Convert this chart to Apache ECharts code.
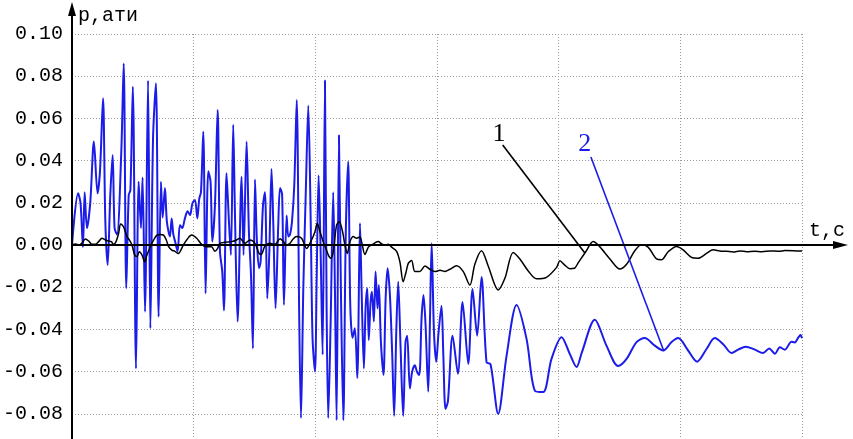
<!DOCTYPE html>
<html>
<head>
<meta charset="utf-8">
<script src="https://cdn.jsdelivr.net/npm/echarts@6/dist/echarts.min.js"></script>
<style>
    html, body {margin: 0; padding: 0; background: #fff;}
    #chart {width: 853px; height: 439px;}
</style>
</head>
<body>
<div id="chart"></div>
<script>
// curve 1 (black), [t, p]
var curve1 = [[0,0],[0.003,0.0005],[0.0055,0],[0.008,0.0008],[0.011,0.0028],[0.0137,0.0019],[0.0164,0.0003],[0.0192,0.0003],[0.0219,0.0016],[0.0246,0.0032],[0.0274,0.0024],[0.03,0.0019],[0.0323,0.0016],[0.0342,0.0003],[0.0362,0.0016],[0.0383,0.0055],[0.040,0.0100],[0.0425,0.0085],[0.0452,0.004],[0.0471,0.0024],[0.0493,0],[0.0515,-0.0047],[0.0534,-0.0055],[0.0553,-0.0032],[0.0575,-0.0047],[0.0597,-0.008],[0.0616,-0.0047],[0.0644,-0.0008],[0.0671,0.0024],[0.0698,0.0047],[0.0726,0.005],[0.0753,0.0047],[0.0775,0.0024],[0.0794,-0.0008],[0.082,-0.0024],[0.0846,-0.003],[0.0874,-0.004],[0.0915,0],[0.095,0.003],[0.0983,0.0047],[0.1025,0.0032],[0.1066,0.0003],[0.1107,-0.0008],[0.1147,-0.0008],[0.1175,-0.003],[0.1197,-0.0016],[0.1216,0.0008],[0.1257,0.0013],[0.1312,0.0016],[0.1353,0.0024],[0.138,0.0032],[0.1421,0.0008],[0.1462,0.0024],[0.1504,0.0008],[0.1537,-0.004],[0.1555,-0.0045],[0.1586,-0.0005],[0.1627,0.0008],[0.1668,0.0003],[0.171,0.003],[0.1737,0.0016],[0.1764,0],[0.1792,0.0008],[0.1819,0.003],[0.1847,0.004],[0.1887,0.0032],[0.1929,-0.0016],[0.1969,0.0024],[0.1997,0.0063],[0.2016,0.0103],[0.2038,0.0063],[0.206,0.0024],[0.2087,-0.0016],[0.2106,-0.0047],[0.2126,-0.0063],[0.2147,-0.0032],[0.2175,0.0095],[0.2197,0.011],[0.2224,0.0063],[0.2243,0],[0.2263,-0.004],[0.2285,0.0016],[0.2312,0.004],[0.2339,0.0032],[0.2366,0.0038],[0.238,0.0016],[0.2408,-0.0045],[0.2436,-0.001],[0.2463,0],[0.2517,0.0016],[0.2545,0.0005],[0.2572,0],[0.2599,0.0003],[0.2627,-0.001],[0.2668,-0.003],[0.2695,-0.008],[0.2722,-0.0174],[0.2745,-0.013],[0.2764,-0.0087],[0.2791,-0.0074],[0.2818,-0.0125],[0.286,-0.0125],[0.2901,-0.01],[0.2942,-0.0115],[0.2983,-0.0126],[0.3025,-0.012],[0.3065,-0.0125],[0.3106,-0.0115],[0.3161,-0.0098],[0.3215,-0.0125],[0.327,-0.019],[0.3311,-0.0091],[0.3366,-0.0027],[0.342,-0.0098],[0.3503,-0.0213],[0.3558,-0.0158],[0.3626,-0.0035],[0.3681,-0.0066],[0.375,-0.0123],[0.3818,-0.016],[0.39,-0.0153],[0.3983,-0.0106],[0.401,-0.0075],[0.405,-0.0095],[0.4092,-0.0112],[0.413,-0.011],[0.416,-0.0085],[0.4228,-0.0027],[0.4283,0.0017],[0.433,-0.0003],[0.4421,-0.0066],[0.4503,-0.0114],[0.456,-0.009],[0.4626,-0.0027],[0.4681,0.0001],[0.4735,-0.001],[0.4804,-0.0066],[0.4845,-0.007],[0.49,-0.0032],[0.4969,-0.0007],[0.5023,-0.0023],[0.5092,-0.0059],[0.5147,-0.0063],[0.5215,-0.004],[0.527,-0.0023],[0.5325,-0.0028],[0.538,-0.003],[0.5435,-0.0033],[0.549,-0.0028],[0.5545,-0.0032],[0.561,-0.003],[0.567,-0.0032],[0.5745,-0.0028],[0.581,-0.003],[0.586,-0.0026],[0.593,-0.0027],[0.6,-0.0029]];

// curve 2 (blue), [t, p]
var curve2 = [[0,0],[0.005,0.0245],[0.007,0.020],[0.009,-0.001],[0.0104,0.025],[0.0123,0.008],[0.015,0.020],[0.018,0.049],[0.021,0.0245],[0.023,0.035],[0.0255,0.0695],[0.0274,0.011],[0.0293,-0.0095],[0.0315,0.024],[0.0334,0.0427],[0.035,0.008],[0.037,0.005],[0.0405,0.044],[0.0425,0.086],[0.0446,-0.0205],[0.0466,0.0237],[0.048,0.026],[0.050,0.075],[0.0526,-0.0585],[0.0548,0.030],[0.0567,0.008],[0.058,0.032],[0.060,-0.0316],[0.0625,0.078],[0.0644,-0.0395],[0.0666,0.0505],[0.069,0.0766],[0.0712,-0.034],[0.0731,0.030],[0.0745,0.013],[0.0764,0.027],[0.078,0.011],[0.0805,0.004],[0.0819,0.0126],[0.0833,0.005],[0.0846,0.002],[0.0868,-0.003],[0.0887,0.0095],[0.0906,0.008],[0.0928,0.0126],[0.095,0.016],[0.097,0.0142],[0.099,0.0198],[0.1011,0.0213],[0.103,0.0126],[0.1046,0.022],[0.106,0.025],[0.1079,0.0537],[0.1098,-0.023],[0.112,0.035],[0.1139,0.030],[0.1153,0.0016],[0.1175,0.019],[0.1197,0.064],[0.1216,-0.003],[0.1235,-0.0126],[0.1249,-0.031],[0.127,0.034],[0.129,0.011],[0.1306,-0.0047],[0.1325,0.057],[0.1339,0.0158],[0.1361,-0.0363],[0.1394,0.0324],[0.141,-0.0047],[0.1435,0.049],[0.1454,0.0063],[0.1471,-0.014],[0.1487,-0.049],[0.1504,0.031],[0.152,0.0016],[0.1537,-0.011],[0.155,-0.008],[0.157,0.019],[0.1586,0.025],[0.1605,-0.0253],[0.1621,-0.005],[0.164,0.036],[0.1654,0.011],[0.1673,-0.030],[0.1695,0.009],[0.171,0.027],[0.1727,0.024],[0.1742,-0.0284],[0.1764,0.014],[0.1778,0.004],[0.1792,0.005],[0.1808,0.011],[0.1827,0.0284],[0.1847,0.0687],[0.1868,-0.0363],[0.1882,-0.082],[0.1901,-0.021],[0.1923,0.0284],[0.1942,0.066],[0.1962,0.011],[0.1977,-0.044],[0.1997,-0.060],[0.2011,-0.016],[0.2027,0.033],[0.2043,-0.0016],[0.206,-0.052],[0.2079,0.078],[0.2093,-0.0316],[0.2106,-0.082],[0.2126,-0.0363],[0.2147,0.025],[0.2161,-0.0205],[0.2175,-0.083],[0.2194,0.052],[0.221,-0.0205],[0.223,-0.083],[0.225,0.0047],[0.227,0.0395],[0.2287,-0.0284],[0.2306,-0.044],[0.2325,-0.0395],[0.2345,-0.063],[0.2367,0.0103],[0.238,-0.0205],[0.2399,-0.0585],[0.2413,-0.030],[0.2427,-0.0205],[0.2439,-0.045],[0.2454,-0.027],[0.2465,-0.0221],[0.2481,-0.0363],[0.2495,-0.0126],[0.2511,-0.030],[0.2522,-0.019],[0.2539,-0.046],[0.256,-0.0616],[0.2578,-0.025],[0.2594,-0.011],[0.2613,-0.0237],[0.2632,-0.052],[0.2648,-0.081],[0.2666,-0.0395],[0.2681,-0.0174],[0.27,-0.0474],[0.2722,-0.081],[0.2741,-0.046],[0.2755,-0.043],[0.2777,-0.068],[0.2796,-0.060],[0.2818,-0.057],[0.2835,-0.060],[0.2854,-0.0616],[0.2873,-0.0348],[0.2889,-0.0237],[0.2906,-0.038],[0.2928,-0.0695],[0.2942,-0.0363],[0.2956,0.0008],[0.2975,-0.0411],[0.2994,-0.0553],[0.3012,-0.042],[0.3037,-0.0288],[0.3052,-0.052],[0.307,-0.0777],[0.309,-0.074],[0.3128,-0.043],[0.3172,-0.061],[0.321,-0.027],[0.3257,-0.0564],[0.3292,-0.0208],[0.333,-0.043],[0.3366,-0.0152],[0.3407,-0.0555],[0.344,-0.0565],[0.3503,-0.080],[0.3572,-0.0524],[0.3654,-0.0284],[0.3736,-0.0445],[0.3804,-0.069],[0.3873,-0.0697],[0.3941,-0.054],[0.4024,-0.0437],[0.4092,-0.0517],[0.4147,-0.0578],[0.419,-0.051],[0.4297,-0.0354],[0.4393,-0.0477],[0.4489,-0.0574],[0.4558,-0.054],[0.464,-0.046],[0.4708,-0.0441],[0.479,-0.0477],[0.4859,-0.050],[0.4928,-0.046],[0.4982,-0.0441],[0.5064,-0.050],[0.5138,-0.0553],[0.5215,-0.0493],[0.5283,-0.0441],[0.5352,-0.047],[0.5421,-0.0512],[0.5475,-0.0496],[0.5538,-0.0482],[0.5612,-0.0496],[0.568,-0.0512],[0.573,-0.049],[0.5777,-0.0515],[0.5818,-0.0485],[0.5859,-0.0496],[0.5913,-0.0458],[0.594,-0.0462],[0.5968,-0.044],[0.5988,-0.0426],[0.6,-0.0442]];

// leader lines: [label position, line start, line end]
var leader1 = [[0.351, 0.0526], [0.354, 0.0474], [0.4215, -0.0038]];
var leader2 = [[0.4215, 0.0479], [0.4265, 0.0417], [0.4864, -0.0502]];

var yTicks = {min: -0.1, max: 0.1, step: 0.02};
var xTicks = {min: 0, max: 0.6, step: 0.1};

var monoFont = '"Liberation Mono", "DejaVu Sans Mono", monospace';
var serifFont = '"Liberation Serif", "DejaVu Serif", serif';
var blue = '#1c1ce8';

function leaderSeriesParts(leader, color) {
    return {
        markLine: {
            silent: true,
            symbol: ['none', 'none'],
            label: {show: false},
            lineStyle: {color: color, width: 1.6, type: 'solid'},
            data: [[{coord: leader[1]}, {coord: leader[2]}]]
        },
        markPoint: {
            silent: true,
            symbol: 'circle',
            symbolSize: 0,
            data: [{coord: leader[0]}]
        }
    };
}

var chart = echarts.init(document.getElementById('chart'));

var m1 = leaderSeriesParts(leader1, '#000');
var m2 = leaderSeriesParts(leader2, blue);
m1.markPoint.label = {show: true, position: 'inside', formatter: '1', color: '#000', fontFamily: serifFont, fontSize: 26};
m2.markPoint.label = {show: true, position: 'inside', formatter: '2', color: blue, fontFamily: serifFont, fontSize: 26};

var option = {
    animation: false,
    backgroundColor: '#fff',
    grid: {
        left: 72,
        right: 51,
        top: 34,
        bottom: -17,
        containLabel: false,
        outerBoundsMode: 'none'
    },
    xAxis: {
        type: 'value',
        min: xTicks.min,
        max: xTicks.max,
        interval: xTicks.step,
        axisLine: {show: false, onZero: true},
        axisTick: {show: false},
        axisLabel: {
            margin: 8,
            color: '#000',
            fontFamily: monoFont,
            fontSize: 20,
            formatter: function (v) {
                return v === 0 ? '' : v.toFixed(1);
            }
        },
        splitLine: {show: true, lineStyle: {color: '#9a9a9a', width: 1, type: [1, 2]}}
    },
    yAxis: {
        type: 'value',
        min: yTicks.min,
        max: yTicks.max,
        interval: yTicks.step,
        axisLine: {show: false},
        axisTick: {show: false},
        axisLabel: {
            margin: 9,
            color: '#000',
            fontFamily: monoFont,
            fontSize: 20,
            formatter: function (v) {
                if (v < -0.09) return '';
                return (Math.abs(v) < 1e-9 ? 0 : v).toFixed(2);
            }
        },
        splitLine: {show: true, lineStyle: {color: '#9a9a9a', width: 1, type: [1, 2]}}
    },
    series: [
        {
            name: '2',
            type: 'line',
            data: curve2,
            showSymbol: false,
            smooth: 0.3,
            lineStyle: {color: blue, width: 2},
            markLine: m2.markLine,
            markPoint: m2.markPoint,
            z: 2
        },
        {
            name: '1',
            type: 'line',
            data: curve1,
            showSymbol: false,
            smooth: 0.3,
            lineStyle: {color: '#000', width: 1.5},
            markLine: m1.markLine,
            markPoint: m1.markPoint,
            z: 3
        }
    ]
};

chart.setOption(option);

// axes with arrows, drawn from the library's own origin
var o = chart.convertToPixel({gridIndex: 0}, [0, 0]);
var W = chart.getWidth();
var H = chart.getHeight();
chart.setOption({
    graphic: [
        {type: 'line', z: 100, shape: {x1: o[0], y1: H, x2: o[0], y2: 12}, style: {stroke: '#000', lineWidth: 2}},
        {type: 'polygon', z: 100, shape: {points: [[o[0] - 4, 16], [o[0], 2], [o[0] + 4, 16]]}, style: {fill: '#000'}},
        {type: 'line', z: 100, shape: {x1: o[0], y1: o[1], x2: W - 12, y2: o[1]}, style: {stroke: '#000', lineWidth: 2}},
        {type: 'polygon', z: 100, shape: {points: [[W - 20, o[1] - 4], [W - 5, o[1]], [W - 20, o[1] + 4]]}, style: {fill: '#000'}},
        {type: 'text', z: 100, left: 78, top: 6, style: {text: 'p,ати', font: '20px ' + monoFont, fill: '#000'}},
        {type: 'text', z: 100, left: 809, top: o[1] - 24, style: {text: 't,c', font: '20px ' + monoFont, fill: '#000'}}
    ]
});
</script>
</body>
</html>
